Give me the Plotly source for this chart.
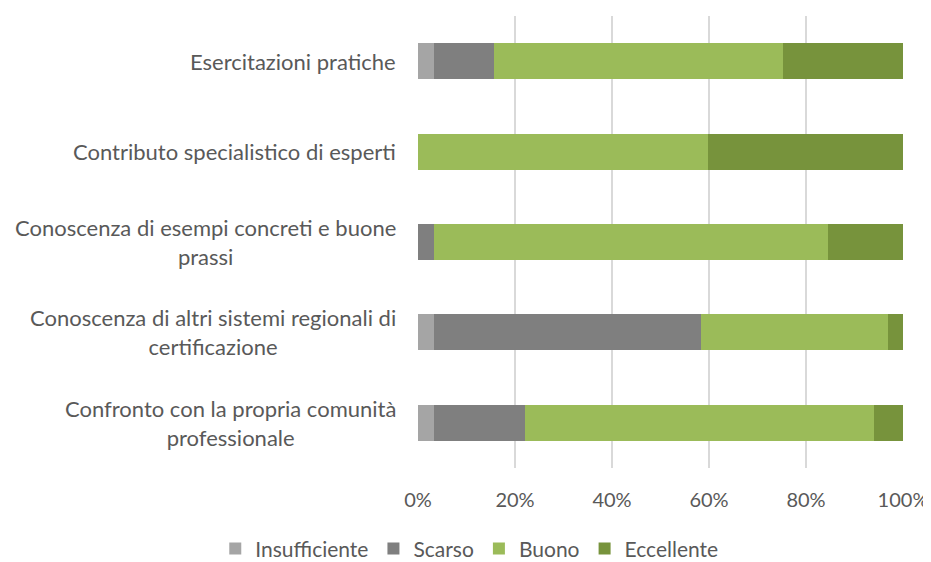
import plotly.graph_objects as go

categories = [
    "Esercitazioni pratiche",
    "Contributo specialistico di esperti",
    "Conoscenza di esempi concreti e buone<br>prassi",
    "Conoscenza di altri sistemi regionali di<br>certificazione",
    "Confronto con la propria comunità<br>professionale",
]
keys = ["r1", "r2", "r3", "r4", "r5"]

insufficiente = [3.2, 0.0, 0.0, 3.2, 3.2]
scarso = [12.5, 0.0, 3.2, 55.1, 18.9]
buono = [59.5, 59.7, 81.3, 38.6, 71.9]
eccellente = [24.8, 40.3, 15.5, 3.1, 6.0]

series = [
    ("Insufficiente", insufficiente, "#A5A5A5"),
    ("Scarso", scarso, "#7F7F7F"),
    ("Buono", buono, "#9BBB59"),
    ("Eccellente", eccellente, "#77933C"),
]

text_color = "#595959"
font_family = "Lato, 'Open Sans', sans-serif"

fig = go.Figure()
for name, vals, color in series:
    fig.add_trace(
        go.Bar(
            y=keys,
            x=vals,
            name=name,
            orientation="h",
            marker=dict(color=color, line=dict(width=0)),
        )
    )

# category labels as annotations so wrapped lines stay centred
for key, label in zip(keys, categories):
    fig.add_annotation(
        x=0,
        xref="paper",
        y=key,
        yref="y",
        text=label,
        xanchor="right",
        align="center",
        showarrow=False,
        xshift=-20,
        font=dict(size=22, color=text_color, family=font_family),
    )

# page body has an 8px margin, so the figure is a bit smaller than the window
fig.update_layout(
    barmode="stack",
    bargap=0.6,
    width=923,
    height=554,
    margin=dict(l=410, r=28, t=8, b=94, autoexpand=False),
    plot_bgcolor="white",
    paper_bgcolor="white",
    font=dict(family=font_family, size=20, color=text_color),
    legend=dict(
        orientation="h",
        x=-0.418,
        xanchor="left",
        y=-0.179,
        yanchor="middle",
        traceorder="normal",
        font=dict(size=21, color=text_color),
        itemwidth=30,
    ),
)
fig.update_xaxes(
    range=[0, 100],
    tickvals=[0, 20, 40, 60, 80, 100],
    ticktext=["0%", "20%", "40%", "60%", "80%", "100%"],
    showgrid=True,
    gridcolor="#D9D9D9",
    gridwidth=2,
    zeroline=False,
    showline=False,
    ticks="",
    ticklabelstandoff=18,
    automargin=False,
)
fig.update_yaxes(
    autorange="reversed",
    showticklabels=False,
    showgrid=False,
    zeroline=False,
    automargin=False,
)

fig.write_html("out.html")
